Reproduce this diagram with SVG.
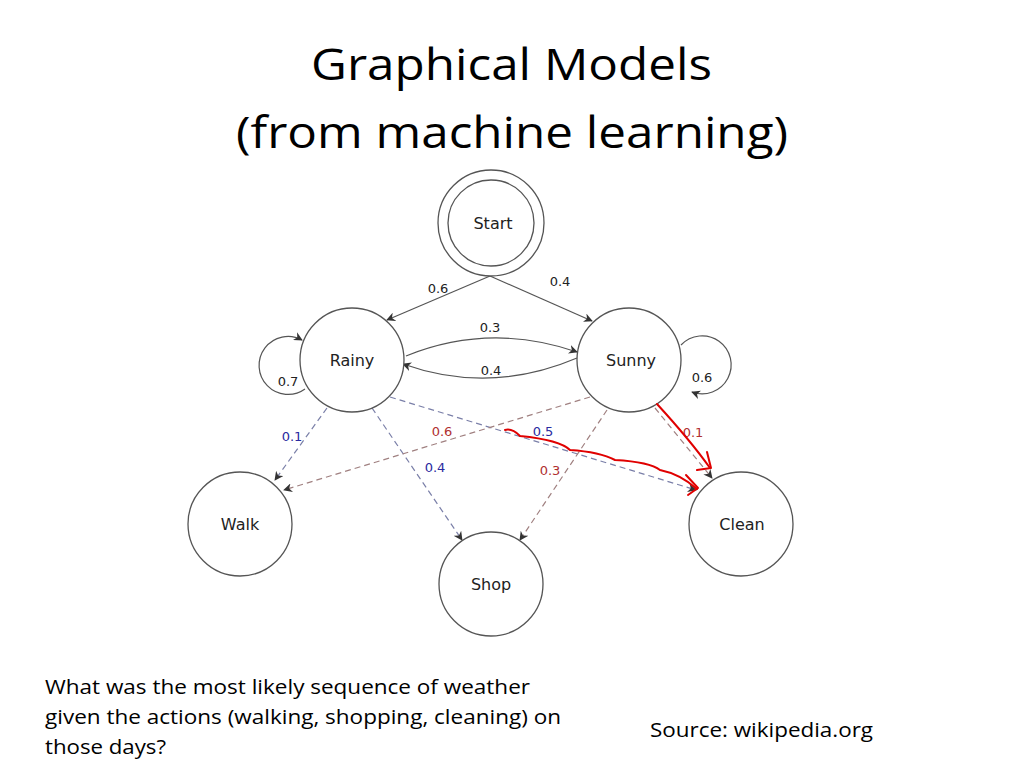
<svg xmlns="http://www.w3.org/2000/svg" width="1024" height="768" viewBox="0 0 1024 768">
<style>
.n{fill:#fff;stroke:#555;stroke-width:1.3}
.nt{font-family:"DejaVu Sans",sans-serif;font-size:16px;fill:#222;text-anchor:middle}
.e{fill:none;stroke:#555;stroke-width:1.2}
.db{fill:none;stroke:#7a7fa8;stroke-width:1.2;stroke-dasharray:6 4}
.dr{fill:none;stroke:#a08080;stroke-width:1.2;stroke-dasharray:6 4}
.l{font-family:"DejaVu Sans",sans-serif;font-size:13px;text-anchor:middle;fill:#222}
.b{fill:#2a2aa0}.r{fill:#b03030}
.t{font-family:"Open Sans",sans-serif;fill:#000}
.hand{fill:none;stroke:#e00000;stroke-width:2;stroke-linecap:round;stroke-linejoin:round}
</style>
<defs>
<marker id="a" viewBox="0 0 10 10" refX="9" refY="5" markerWidth="9" markerHeight="9" orient="auto" markerUnits="userSpaceOnUse"><path d="M0,0 L10,5 L0,10 L3,5 z" fill="#333"/></marker>
</defs>
<text class="t" x="311" y="80" font-size="44" textLength="401" lengthAdjust="spacingAndGlyphs">Graphical Models</text>
<text class="t" x="236" y="148" font-size="44" textLength="552" lengthAdjust="spacingAndGlyphs">(from machine learning)</text>
<g id="connectors">
<path class="e" d="M490,276 L387,320" marker-end="url(#a)"/>
<path class="e" d="M490,276 L592,321" marker-end="url(#a)"/>
<path class="e" d="M406,356 Q490,322 577,352" marker-end="url(#a)"/>
<path class="e" d="M577,358 Q490,395 403,364" marker-end="url(#a)"/>
<path class="e" d="M305,389 A29,29 0 1 1 302,340" marker-end="url(#a)"/>
<path class="e" d="M681,345 A29,29 0 1 1 692,392" marker-end="url(#a)"/>
<path class="db" d="M327,408 L275,480" marker-end="url(#a)"/>
<path class="db" d="M372,408 L462,540" marker-end="url(#a)"/>
<path class="db" d="M390,397 L696,490" marker-end="url(#a)"/>
<path class="dr" d="M590,397 L284,490" marker-end="url(#a)"/>
<path class="dr" d="M607,410 L520,540" marker-end="url(#a)"/>
<path class="dr" d="M655,408 L712,478" marker-end="url(#a)"/>
</g>
<g id="labels">
<text class="l" x="438" y="293">0.6</text>
<text class="l" x="560" y="286">0.4</text>
<text class="l" x="490" y="332">0.3</text>
<text class="l" x="491" y="375">0.4</text>
<text class="l" x="288" y="386">0.7</text>
<text class="l" x="702" y="382">0.6</text>
<text class="l b" x="292" y="441">0.1</text>
<text class="l b" x="435" y="472">0.4</text>
<text class="l b" x="543" y="436">0.5</text>
<text class="l r" x="442" y="436">0.6</text>
<text class="l r" x="550" y="475">0.3</text>
<text class="l r" x="693" y="437">0.1</text>
</g>
<g id="start"><circle class="n" cx="491" cy="223" r="53"/><circle class="n" cx="491" cy="223" r="43"/><text class="nt" x="493" y="229">Start</text></g>
<g id="rainy"><circle class="n" cx="352" cy="360" r="52"/><text class="nt" x="352" y="366">Rainy</text></g>
<g id="sunny"><circle class="n" cx="629" cy="360" r="52"/><text class="nt" x="631" y="366">Sunny</text></g>
<g id="walk"><circle class="n" cx="240" cy="524" r="52"/><text class="nt" x="240" y="530">Walk</text></g>
<g id="shop"><circle class="n" cx="491" cy="584" r="52"/><text class="nt" x="491" y="590">Shop</text></g>
<g id="clean"><circle class="n" cx="741" cy="524" r="52"/><text class="nt" x="742" y="530">Clean</text></g>
<g id="hand">
<path class="hand" d="M505,430 Q512,428 520,436 Q560,440 570,450 Q600,452 615,460 Q650,462 660,470 Q680,474 697,489"/>
<path class="hand" d="M686,475 L698,488 L688,495"/>
<path class="hand" d="M657,404 Q690,440 710,468"/>
<path class="hand" d="M707,452 L711,468 L697,470"/>
</g>
<text class="t" x="45" y="694" font-size="20" textLength="485" lengthAdjust="spacingAndGlyphs">What was the most likely sequence of weather</text>
<text class="t" x="45" y="724" font-size="20" textLength="516" lengthAdjust="spacingAndGlyphs">given the actions (walking, shopping, cleaning) on</text>
<text class="t" x="45" y="754" font-size="20" textLength="121" lengthAdjust="spacingAndGlyphs">those days?</text>
<text class="t" x="650" y="737" font-size="20" textLength="223" lengthAdjust="spacingAndGlyphs">Source: wikipedia.org</text>
</svg>
